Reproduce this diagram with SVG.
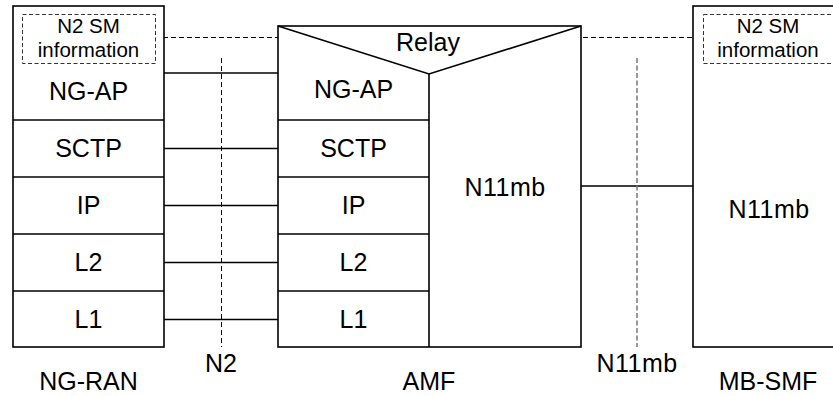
<svg xmlns="http://www.w3.org/2000/svg" width="833" height="396" viewBox="0 0 833 396">
<style>
.box{fill:#fff;stroke:#000;stroke-width:1.6}
.ln{stroke:#000;stroke-width:1.6;fill:none}
.dash{stroke:#000;stroke-width:1;stroke-dasharray:5 3;fill:none}
.dashb{stroke:#333;stroke-width:1;stroke-dasharray:4 2.5;fill:none}
.dashg{stroke:#777;stroke-width:1.5;stroke-dasharray:5 2.5;fill:none}
.t{font-family:"Liberation Sans",Arial,sans-serif;font-size:25px;text-anchor:middle;fill:#000}
.s{font-family:"Liberation Sans",Arial,sans-serif;font-size:20.5px;text-anchor:middle;fill:#000}
</style>
<g id="connectors">
<line class="ln" x1="164" y1="73" x2="278" y2="73"/>
<line class="ln" x1="164" y1="148.5" x2="278" y2="148.5"/>
<line class="ln" x1="164" y1="205.5" x2="278" y2="205.5"/>
<line class="ln" x1="164" y1="262.5" x2="278" y2="262.5"/>
<line class="ln" x1="164" y1="319.5" x2="278" y2="319.5"/>
<line class="ln" x1="581" y1="186" x2="693" y2="186"/>
<line class="dash" x1="221.5" y1="58" x2="221.5" y2="347"/>
<line class="dashg" x1="637" y1="58" x2="637" y2="347"/>
<line class="dash" x1="155" y1="37.5" x2="385" y2="37.5"/>
<line class="dash" x1="471" y1="37.5" x2="703" y2="37.5"/>
</g>
<g id="ng-ran">
<rect class="box" x="13" y="6" width="151" height="341"/>
<line class="ln" x1="13" y1="120" x2="164" y2="120"/>
<line class="ln" x1="13" y1="177" x2="164" y2="177"/>
<line class="ln" x1="13" y1="234" x2="164" y2="234"/>
<line class="ln" x1="13" y1="291" x2="164" y2="291"/>
<rect class="dashb" x="22.5" y="14.5" width="133" height="49"/>
<text class="s" x="88.5" y="33">N2 SM</text>
<text class="s" x="88.5" y="57">information</text>
<text class="t" x="88.5" y="100">NG-AP</text>
<text class="t" x="88.5" y="157">SCTP</text>
<text class="t" x="88.5" y="214">IP</text>
<text class="t" x="88.5" y="271">L2</text>
<text class="t" x="88.5" y="328">L1</text>
<text class="t" x="88.5" y="390">NG-RAN</text>
</g>
<g id="amf">
<rect class="box" x="278" y="26" width="303" height="321"/>
<polyline class="ln" points="278,26 429,74 581,26"/>
<line class="ln" x1="429" y1="74" x2="429" y2="347"/>
<line class="ln" x1="278" y1="120" x2="429" y2="120"/>
<line class="ln" x1="278" y1="177" x2="429" y2="177"/>
<line class="ln" x1="278" y1="234" x2="429" y2="234"/>
<line class="ln" x1="278" y1="291" x2="429" y2="291"/>
<text class="t" x="428" y="51">Relay</text>
<text class="t" x="353.5" y="98">NG-AP</text>
<text class="t" x="353.5" y="157">SCTP</text>
<text class="t" x="353.5" y="214">IP</text>
<text class="t" x="353.5" y="271">L2</text>
<text class="t" x="353.5" y="328">L1</text>
<text class="t" x="505" y="196" letter-spacing="0.5">N11mb</text>
<text class="t" x="429" y="390">AMF</text>
</g>
<g id="mb-smf">
<rect class="box" x="693" y="6" width="150" height="341"/>
<rect class="dashb" x="703.5" y="14.5" width="140" height="49"/>
<text class="s" x="768" y="33">N2 SM</text>
<text class="s" x="768" y="57">information</text>
<text class="t" x="769" y="218" letter-spacing="0.5">N11mb</text>
<text class="t" x="768" y="390">MB-SMF</text>
</g>
<g id="labels">
<text class="t" x="221" y="372">N2</text>
<text class="t" x="637" y="372" letter-spacing="0.5">N11mb</text>
</g>
</svg>
